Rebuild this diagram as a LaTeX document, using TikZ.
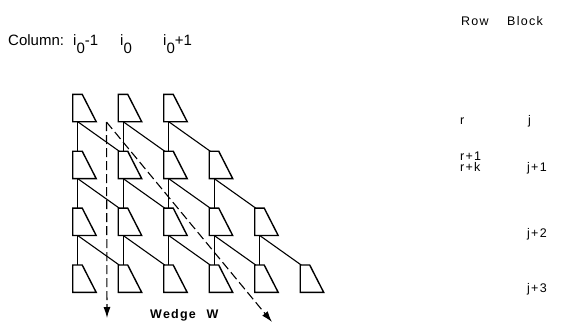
\documentclass[tikz,border=0pt]{standalone}
\usepackage{fontspec}
\setmainfont{Liberation Sans}
\newfontfamily\spacedfont[LetterSpace=10]{Liberation Sans}
\newfontfamily\wedgefont[LetterSpace=10]{Liberation Sans Bold}
\usetikzlibrary{arrows.meta}
\begin{document}
\begin{tikzpicture}[x=1pt,y=-1pt,
  cell/.style={line width=1.4pt, line join=miter},
  link/.style={line width=1.1pt},
  wedgeray/.style={line width=1.1pt, dash pattern=on 9pt off 4pt, -{Latex[length=11pt,width=7pt]}},
  lab/.style={font=\spacedfont\fontsize{12.5}{14}\selectfont, anchor=base west, inner sep=0pt},
  collab/.style={font=\fontsize{15}{18}\selectfont, anchor=base west, inner sep=0pt},
  wlab/.style={font=\wedgefont\fontsize{12.5}{14}\selectfont, anchor=base west, inner sep=0pt}]
\useasboundingbox (0,0) rectangle (567,324);

% trapezoid cells
\foreach \r/\n in {0/2,1/3,2/4,3/5} {
  \foreach \c in {0,...,\n} {
    \pgfmathsetmacro\L{72.7+45.5*\c}
    \pgfmathsetmacro\T{94.3+56.9*\r}
    \draw[cell] (\L,\T) -- ++(9.5,0) -- ++(14,27.4) -- ++(-23.5,0) -- cycle;
    \coordinate (b\r\c) at (\L+5,\T+27.4);
    \coordinate (v\r\c) at (\L+5,\T);
    \coordinate (d\r\c) at (\L+1,\T);
  }
}

% connectors
\foreach \r in {0,1,2} {
  \pgfmathtruncatemacro\rn{\r+1}
  \pgfmathtruncatemacro\n{\r+2}
  \foreach \c in {0,...,\n} {
    \pgfmathtruncatemacro\cn{\c+1}
    \draw[link] (b\r\c) -- (v\rn\c);
    \draw[link] (b\r\c) -- (d\rn\cn);
  }
}

% wedge
\coordinate (apex) at (106.5,122);
\coordinate (vend) at (107,318);
\coordinate (dend) at (272,322);
\draw[wedgeray] (apex) -- (vend);
\draw[wedgeray] (apex) -- (dend);
\node[wlab] (wedge) at (150,318) {Wedge\hspace{6pt} W};

% column labels
\node[collab] (colhdr) at (8,45) {Column:};
\node[collab] (c1) at (73,45) {i\raisebox{-8pt}{0}-1};
\node[collab] (c2) at (120,45) {i\raisebox{-8pt}{0}};
\node[collab] (c3) at (163,45) {i\raisebox{-8pt}{0}+1};

% row / block labels
\node[lab] (rowhdr) at (461,25) {Row};
\node[lab] (blockhdr) at (507,25) {Block};
\node[lab] (r0) at (460,124) {r};
\node[lab] (j0) at (528,124) {j};
\node[lab] (r1) at (460,160) {r+1};
\node[lab] (rk) at (460,171) {r+k};
\node[lab] (j1) at (527,171) {j+1};
\node[lab] (j2) at (527,237) {j+2};
\node[lab] (j3) at (527,292) {j+3};
\end{tikzpicture}
\end{document}
